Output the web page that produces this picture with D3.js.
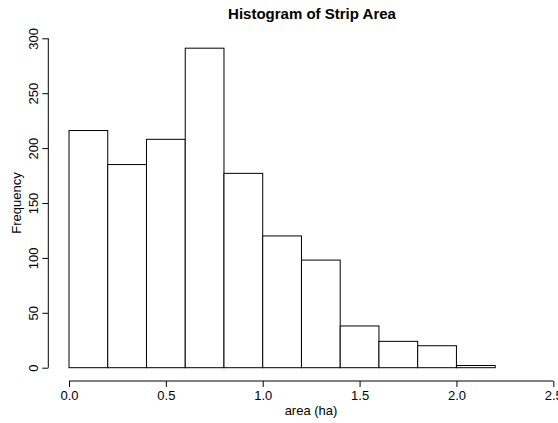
<!DOCTYPE html>
<html>
<head>
<meta charset="utf-8">
<script src="https://cdn.jsdelivr.net/npm/d3@7"></script>
<style>
  html, body { margin: 0; padding: 0; background: #fff; }
  svg { display: block; font-family: "Liberation Sans", Arial, sans-serif; }
</style>
</head>
<body>
<svg id="chart" width="558" height="423"></svg>
<script>
// Data
const binStarts = [0.0, 0.2, 0.4, 0.6, 0.8, 1.0, 1.2, 1.4, 1.6, 1.8, 2.0];
const binWidth = 0.2;
const counts = [216, 185, 208, 291, 177, 120, 98, 38, 24, 20, 2];
const xTicks = [0.0, 0.5, 1.0, 1.5, 2.0, 2.5];
const yTicks = [0, 50, 100, 150, 200, 250, 300];
const title = "Histogram of Strip Area";
const xLabel = "area (ha)";
const yLabel = "Frequency";

const svg = d3.select("#chart");

const x = d3.scaleLinear().domain([0, 2.5]).range([69, 553.3]);
const y = d3.scaleLinear().domain([0, 300]).range([367.7, 38.3]);

// Bars
svg.append("g")
  .selectAll("rect")
  .data(binStarts.map((s, i) => ({ s, c: counts[i] })))
  .join("rect")
  .attr("x", d => x(d.s))
  .attr("y", d => y(d.c))
  .attr("width", d => x(d.s + binWidth) - x(d.s))
  .attr("height", d => y(0) - y(d.c))
  .attr("fill", "#fff")
  .attr("stroke", "#000")
  .attr("stroke-width", 1);

// X axis
const xAxis = d3.axisBottom(x)
  .tickValues(xTicks)
  .tickFormat(d3.format(".1f"))
  .tickSize(6)
  .tickPadding(4)
  .tickSizeOuter(0);
const gx = svg.append("g")
  .attr("transform", "translate(0,381)")
  .call(xAxis);
gx.select(".domain").attr("d", `M${x(0)},0H${x(2.5)}`);
gx.selectAll("text").attr("font-size", 13).attr("fill", "#000")
  .attr("font-family", "Liberation Sans, Arial, sans-serif");

// Y axis
const yAxis = d3.axisLeft(y)
  .tickValues(yTicks)
  .tickSize(6)
  .tickSizeOuter(0);
const gy = svg.append("g")
  .attr("transform", "translate(48.3,0)")
  .call(yAxis);
gy.select(".domain").attr("d", `M0,${y(0)}V${y(300)}`);
gy.selectAll("text")
  .attr("font-size", 13).attr("fill", "#000")
  .attr("font-family", "Liberation Sans, Arial, sans-serif")
  .attr("x", null).attr("dy", null)
  .attr("text-anchor", "middle")
  .attr("transform", "translate(-10,0) rotate(-90)");

svg.selectAll(".domain, .tick line").attr("stroke", "#000");

// Title
svg.append("text")
  .attr("x", 312).attr("y", 18.5)
  .attr("text-anchor", "middle")
  .attr("font-size", 15).attr("font-weight", "bold")
  .text(title);

// X label
svg.append("text")
  .attr("x", 311).attr("y", 415)
  .attr("text-anchor", "middle")
  .attr("font-size", 13)
  .text(xLabel);

// Y label
svg.append("text")
  .attr("transform", `translate(21,${(y(0) + y(300)) / 2}) rotate(-90)`)
  .attr("text-anchor", "middle")
  .attr("font-size", 13)
  .text(yLabel);
</script>
</body>
</html>
